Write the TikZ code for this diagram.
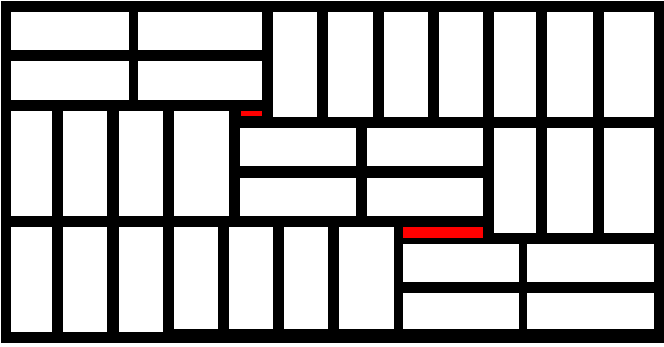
\documentclass[tikz,border=0pt]{standalone}
\begin{document}
\begin{tikzpicture}[x=1pt,y=-1pt,
  tile/.style={fill=white},
  gap/.style={fill=red}]
\fill[white] (0,0) rectangle (664,346);
\useasboundingbox (0,0) rectangle (664,346);
\fill[black] (1,1) rectangle (664,343);
% top-left horizontals
\foreach \a/\b/\c/\d in {11/12/129/50,138/12/262/50,11/61/129/100,138/61/262/100}
  \fill[tile] (\a,\b) rectangle (\c,\d);
% top-right verticals
\foreach \a/\c in {273/317,328/373,384/428,439/483,494/536,547/593,604/654}
  \fill[tile] (\a,12) rectangle (\c,117);
% second row left verticals
\foreach \a/\c in {11/52,63/107,119/163,174/229}
  \fill[tile] (\a,111) rectangle (\c,216);
% middle horizontals
\foreach \a/\b/\c/\d in {240/128/356/166,367/128/483/166,240/178/356/216,367/178/483/216}
  \fill[tile] (\a,\b) rectangle (\c,\d);
% right verticals
\foreach \a/\c in {494/536,547/593,604/654}
  \fill[tile] (\a,128) rectangle (\c,233);
% bottom verticals
\foreach \a/\c/\d in {11/52/332,63/107/332,119/163/332,174/218/329,229/273/329,284/328/329,339/394/329}
  \fill[tile] (\a,227) rectangle (\c,\d);
% bottom-right horizontals
\foreach \a/\b/\c/\d in {403/244/519/282,527/244/654/282,403/293/519/329,527/293/654/329}
  \fill[tile] (\a,\b) rectangle (\c,\d);
% red gaps
\fill[gap] (241,111) rectangle (262,116);
\fill[gap] (403,227) rectangle (483,238);
\end{tikzpicture}
\end{document}
